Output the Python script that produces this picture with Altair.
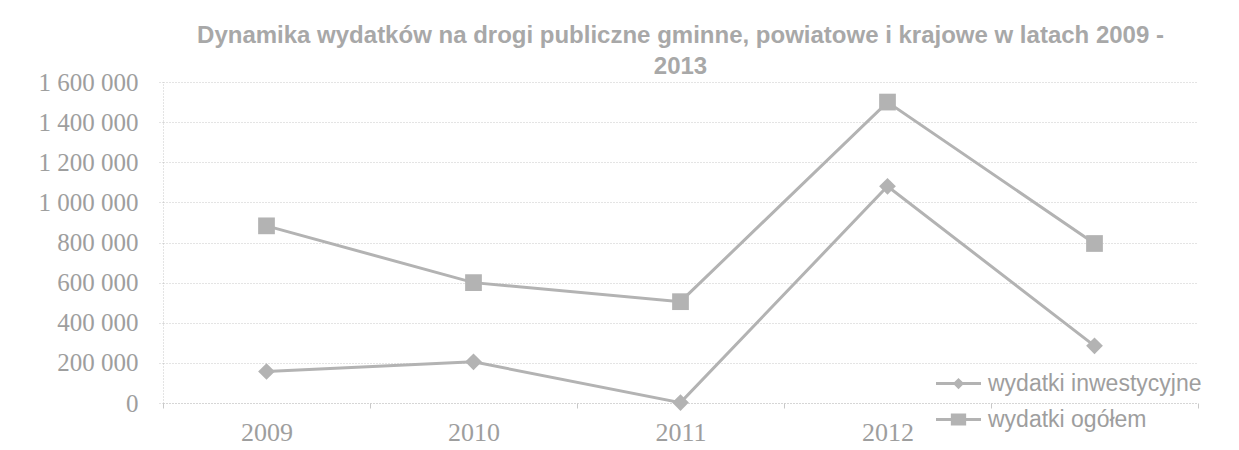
import altair as alt
import pandas as pd

YEARS = ["2009", "2010", "2011", "2012", "2013"]
SERIES = ["wydatki inwestycyjne", "wydatki ogółem"]
SHAPES = ["diamond", "square"]
INWESTYCYJNE = [157000, 205000, 2000, 1080000, 285000]
OGOLEM = [883000, 600000, 505000, 1500000, 795000]
Y_TICKS = [0, 200000, 400000, 600000, 800000, 1000000, 1200000, 1400000, 1600000]
TITLE = ["Dynamika wydatków na drogi publiczne gminne, powiatowe i krajowe w latach 2009 -", "2013"]

rows = []
for s, vals in zip(SERIES, [INWESTYCYJNE, OGOLEM]):
    for y, v in zip(YEARS, vals):
        rows.append({"year": y, "series": s, "value": v})
df = pd.DataFrame(rows)

GRAY = "#b3b3b3"
TEXT = "#9e9e9e"
GRID = "#c9c9c9"

x = alt.X("year:N", sort=YEARS,
          scale=alt.Scale(type="band", paddingInner=0, paddingOuter=0),
          axis=alt.Axis(title=None, labelAngle=0, labelFont="Liberation Serif",
                        labelFontSize=26, labelColor=TEXT, labelPadding=11,
                        labelExpr="datum.value == '2013' ? '' : datum.value",
                        tickBand="extent", tickSize=5, tickColor=GRID,
                        domainColor=GRID, domainDash=[1, 2], grid=False))
y = alt.Y("value:Q", scale=alt.Scale(domain=[0, 1600000], nice=False),
          axis=alt.Axis(title=None, values=Y_TICKS, labelFont="Liberation Serif",
                        labelFontSize=25, labelColor=TEXT, labelPadding=19,
                        labelExpr="replace(format(datum.value, ','), regexp(',', 'g'), ' ')",
                        tickSize=6, tickColor=GRID, tickDash=[1, 2],
                        domainColor=GRID, domainDash=[1, 2],
                        grid=True, gridColor=GRID, gridDash=[1, 2], gridWidth=1))

base = alt.Chart(df)

lines = base.mark_line(strokeWidth=3, color=GRAY).encode(
    x=x, y=y, detail="series:N")

point_layers = [
    base.transform_filter(alt.datum.series == s).mark_point(
        filled=True, size=280, color=GRAY, opacity=1, shape=shp).encode(x=x, y=y)
    for s, shp in zip(SERIES, SHAPES)
]

# legend symbols: a short line with the series marker on it (filled outlines)
PATH_DIAMOND = "M-1,-0.067H1V0.067H-1Z M-0.25,0L0,-0.25L0.25,0L0,0.25Z"
PATH_SQUARE = "M-1,-0.067H1V0.067H-1Z M-0.34,-0.27H0.34V0.27H-0.34Z"

legend_layer = base.mark_point(filled=True, opacity=0, size=2025, color=GRAY).encode(
    x=x, y=y,
    shape=alt.Shape("series:N",
                    scale=alt.Scale(domain=SERIES, range=[PATH_DIAMOND, PATH_SQUARE]),
                    legend=alt.Legend(title=None, orient="none", legendX=772, legendY=278,
                                      symbolSize=2025, symbolOpacity=1,
                                      symbolFillColor=GRAY, labelFont="Liberation Sans",
                                      labelFontSize=23, labelColor=TEXT, labelOffset=6,
                                      labelLimit=400, rowPadding=-4, padding=0)))

chart = alt.layer(lines, *point_layers, legend_layer).properties(
    width=1035, height=321,
    title=alt.TitleParams(text=TITLE, font="Liberation Sans", fontSize=24,
                          fontWeight="bold", color="#a8a8a8", anchor="middle",
                          frame="group", lineHeight=31, offset=8, dy=17),
    autosize=alt.AutoSizeParams(type="none"),
    padding={"left": 155, "top": 74, "right": 30, "bottom": 42},
).configure_view(strokeWidth=0)

chart.save("out.html", embed_options={"renderer": "svg", "actions": False})
